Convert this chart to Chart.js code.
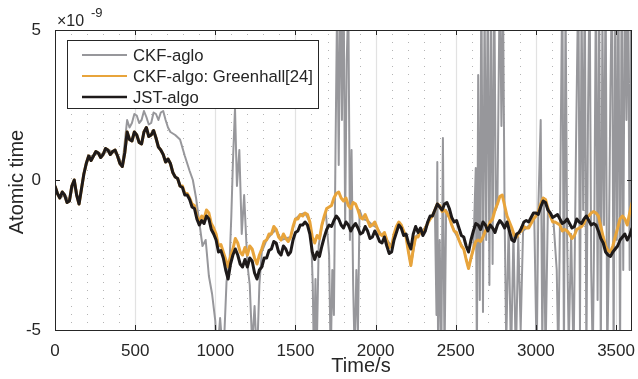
<!DOCTYPE html>
<html>
<head>
<meta charset="utf-8">
<script src="https://cdn.jsdelivr.net/npm/chart.js@4"></script>
<style>
  html, body { margin: 0; padding: 0; background: #fff; }
  #wrap { width: 638px; height: 379px; }
</style>
</head>
<body>
<div id="wrap"><canvas id="chart" width="638" height="379"></canvas></div>
<script>
// values are in units of 1e-9 (shown by the x10^-9 label)
const seriesNames = ['CKF-aglo', 'CKF-algo: Greenhall[24]', 'JST-algo'];

// JST-algo and Greenhall curves, read every 15 s (one row = 300 s)
const sampleStep = 15;
const jstValues = [
    -0.2,-0.45,-0.6,-0.4,-0.5,-0.75,-0.7,-0.2,0.0,-0.5,-0.8,-0.3,0.2,0.55,0.8,0.65,0.8,0.95,0.9,0.75,
    0.85,1.05,1.0,0.85,0.95,1.0,0.8,0.55,0.45,0.9,1.6,1.35,1.3,1.6,1.5,1.25,1.2,1.6,1.75,1.45,
    1.5,1.65,1.4,1.1,1.0,0.85,0.6,0.7,0.55,0.25,0.1,0.05,-0.2,-0.25,-0.5,-0.5,-0.65,-0.9,-0.95,-1.3,
    -1.5,-1.35,-1.45,-1.2,-1.3,-1.65,-1.8,-2.0,-2.4,-2.35,-2.6,-3.0,-3.3,-2.8,-2.5,-2.3,-2.5,-2.8,-2.9,-2.65,
    -2.9,-2.6,-2.7,-3.1,-3.3,-3.0,-2.9,-2.6,-2.6,-2.35,-2.3,-2.05,-2.1,-2.4,-2.5,-2.2,-2.3,-2.5,-2.4,-2.0,
    -1.75,-1.7,-1.5,-1.5,-1.4,-1.5,-1.8,-2.4,-2.65,-2.4,-2.55,-2.2,-1.9,-1.65,-1.5,-1.55,-1.35,-1.2,-1.3,-1.5,
    -1.6,-1.4,-1.5,-1.7,-1.55,-1.45,-1.6,-1.8,-1.75,-1.55,-1.7,-1.95,-1.9,-1.7,-1.85,-2.05,-2.1,-1.9,-2.2,-2.45,
    -2.4,-2.0,-1.75,-1.5,-1.6,-1.85,-1.8,-2.1,-2.3,-1.8,-1.55,-1.75,-1.6,-1.85,-1.7,-1.4,-1.2,-1.2,-1.0,-0.8,
    -0.9,-1.0,-0.8,-0.75,-0.95,-1.25,-1.4,-1.35,-1.6,-1.85,-1.9,-2.2,-2.4,-2.0,-1.7,-1.45,-1.5,-1.65,-1.4,-1.5,
    -1.7,-1.5,-1.6,-1.75,-1.5,-1.35,-1.45,-1.6,-1.4,-1.7,-2.0,-2.05,-1.8,-1.75,-1.6,-1.4,-1.35,-1.4,-1.25,-1.1,
    -1.1,-1.15,-0.9,-0.7,-0.75,-1.0,-1.1,-1.25,-1.2,-1.15,-1.3,-1.45,-1.4,-1.3,-1.45,-1.6,-1.55,-1.3,-1.4,-1.45,
    -1.3,-1.2,-1.35,-1.5,-1.45,-1.5,-1.7,-1.95,-2.1,-2.4,-2.5,-2.55,-2.4,-2.3,-2.2,-2.0,-1.9,-1.8,-2.0,-1.85,
    -1.6
];

const greenhallValues = [
    -0.2,-0.45,-0.6,-0.4,-0.5,-0.75,-0.7,-0.2,0.0,-0.5,-0.8,-0.3,0.2,0.55,0.8,0.65,0.8,0.95,0.9,0.75,
    0.85,1.05,1.0,0.85,0.95,1.0,0.8,0.55,0.45,0.9,1.6,1.35,1.3,1.6,1.5,1.25,1.2,1.6,1.75,1.45,
    1.5,1.65,1.4,1.1,1.0,0.85,0.6,0.7,0.55,0.25,0.1,0.05,-0.2,-0.2,-0.45,-0.45,-0.6,-0.8,-0.85,-1.2,
    -1.4,-1.2,-1.3,-1.0,-1.1,-1.45,-1.6,-1.8,-2.2,-2.15,-2.4,-2.65,-2.9,-2.55,-2.3,-1.95,-2.1,-2.4,-2.5,-2.25,
    -2.5,-2.2,-2.3,-2.6,-2.8,-2.5,-2.3,-2.05,-2.0,-1.8,-1.8,-1.55,-1.65,-1.9,-2.0,-1.8,-1.95,-2.05,-1.9,-1.55,
    -1.3,-1.3,-1.15,-1.2,-1.1,-1.15,-1.4,-1.9,-2.1,-1.85,-1.95,-1.5,-1.2,-0.95,-0.9,-0.85,-0.6,-0.45,-0.4,-0.6,
    -0.7,-0.6,-0.85,-0.95,-0.75,-0.8,-1.0,-1.25,-1.3,-1.15,-1.35,-1.55,-1.5,-1.4,-1.6,-1.8,-1.85,-1.75,-2.0,-2.25,
    -2.2,-1.8,-1.55,-1.4,-1.5,-1.7,-1.9,-2.4,-2.85,-2.3,-1.9,-1.9,-1.7,-1.8,-1.6,-1.45,-1.3,-1.2,-1.0,-0.8,
    -0.85,-1.05,-1.0,-1.1,-1.25,-1.5,-1.7,-1.75,-2.0,-2.2,-2.3,-2.65,-2.95,-2.6,-2.3,-2.05,-2.0,-2.05,-1.9,-1.7,
    -1.6,-1.4,-1.3,-1.0,-0.8,-0.55,-0.5,-0.85,-1.2,-1.4,-1.6,-1.85,-1.9,-1.75,-1.7,-1.55,-1.6,-1.6,-1.45,-1.3,
    -1.2,-1.05,-0.8,-0.6,-0.65,-0.95,-1.2,-1.4,-1.4,-1.45,-1.5,-1.7,-1.65,-1.7,-1.8,-1.95,-1.85,-1.65,-1.6,-1.55,
    -1.45,-1.25,-1.2,-1.1,-1.05,-1.1,-1.2,-1.55,-1.9,-2.2,-2.35,-2.4,-2.2,-1.9,-1.6,-1.3,-1.2,-1.3,-1.5,-1.1,
    -0.75
];

// CKF-aglo: irregular samples, values outside +-5 leave the axes
const timeCkf = [0,30,60,90,120,150,180,210,240,270,300,330,360,390,420,450,465,480,495,510,525,540,555,570,585,600,615,630,645,660,675,690,705,720,750,780,810,840,860,880,900,920,940,960,980,1000,1010,1030,1050,1070,1090,1100,1110,1123,1135,1150,1165,1180,1200,1215,1230,1245,1260,1275,1290,1320,1350,1380,1410,1440,1470,1500,1530,1560,1590,1600,1608,1615,1625,1632,1645,1665,1690,1710,1720,1730,1740,1750,1760,1770,1780,1790,1800,1810,1820,1830,1840,1850,1860,1870,1880,1890,1900,1920,1950,1980,2010,2040,2070,2100,2130,2160,2190,2220,2250,2280,2310,2340,2370,2380,2385,2390,2400,2410,2420,2430,2440,2460,2490,2520,2550,2580,2610,2625,2632,2640,2650,2660,2670,2680,2690,2700,2710,2720,2730,2740,2750,2760,2775,2785,2795,2805,2815,2830,2845,2860,2875,2890,2905,2920,2940,2970,2990,3005,3015,3030,3040,3050,3060,3075,3090,3110,3130,3140,3150,3165,3175,3185,3195,3205,3220,3235,3250,3265,3275,3285,3295,3305,3315,3325,3335,3345,3355,3365,3375,3385,3395,3405,3415,3425,3435,3445,3455,3465,3475,3485,3495,3505,3515,3525,3535,3545,3555,3565,3575,3585,3595,3600];

const ckfValues = [-0.2,-0.6,-0.5,-0.7,0.0,-0.8,0.2,0.8,0.8,0.9,0.85,1.0,0.95,0.85,0.5,2.0,1.75,1.9,2.2,2.15,1.9,2.0,2.3,2.1,1.85,1.9,2.25,2.2,2.0,2.25,2.3,2.0,1.75,1.6,1.5,1.35,0.8,0.3,0.0,-0.6,-1.4,-2.2,-2.0,-3.2,-3.8,-4.7,-6,-4.6,-6,-3.4,-2.6,-1.2,0.6,2.4,-0.2,1.0,-1.8,-0.5,-2.8,-3.5,-5.5,-4.2,-6,-3.5,-2.4,-2.0,-1.8,-1.65,-2.0,-1.95,-1.9,-1.3,-1.15,-1.1,-1.4,-2.2,-3.5,-6,-3.3,-6,-2.2,-1.5,-1.1,-2.5,-6,-3.0,-4.5,1.0,6,0.5,7,2.0,7,-1.5,4.0,6,-2.0,1.0,-3.5,-6,-3.0,-5,-1.0,-1.3,-1.35,-1.5,-1.6,-1.85,-2.0,-2.2,-1.55,-1.5,-1.9,-2.85,-1.9,-1.7,-1.6,-1.3,-1.0,-4.5,0.6,-6,-2.0,-6,1.4,-6,-1.0,-1.25,-1.7,-2.0,-2.3,-2.95,-2.3,0.4,-6,3.5,-4.0,7,-4.4,6,-2.0,7,-3.5,6,-2.8,7,-1.0,-0.8,7,1.8,6,-1.2,-5.5,-1.5,-6,-1.8,-6,-1.9,-5.0,-1.7,-1.6,-1.45,-1.3,-6,-1.0,2.0,-5.5,-0.6,-6,-0.9,-1.2,-1.4,-3.0,-6,-1.5,7,-6,6,-2.0,-5.5,-1.8,-6,1.0,7,-5.0,6,-1.0,7,-6,2.0,7,-3.0,-6,-1.0,7,-4.0,6,-6,5.5,-1.5,7,-6,-2.5,3.0,7,-6,6,-2.0,7,-6,7,-3.0,7,2.0,7,-3.0,7,-1.7];

const xTicks = [0, 500, 1000, 1500, 2000, 2500, 3000, 3500];
const yTicks = [-5, 0, 5];

const colGray = '#97979b';
const colOrange = '#e8a43b';
const colBlack = '#1e1a1a';
const axisCol = '#262626';
const fontName = '"Liberation Sans", Arial, Helvetica, sans-serif';

function toPoints(ts, vs) {
    return vs.map(function (v, i) { return { x: ts[i], y: v }; });
}
const sampleTimes = jstValues.map(function (v, i) { return i * sampleStep; });

// grid, frame, inward ticks, legend and axis titles drawn like the MATLAB figure
const matlabFrame = {
    id: 'matlabFrame',
    beforeDatasetsDraw: function (chart) {
        const ctx = chart.ctx;
        const a = chart.chartArea;
        const xs = chart.scales.x;
        ctx.save();
        for (let v = 100; v < 3600; v += 100) {
            const px = Math.round(xs.getPixelForValue(v)) + 0.5;
            ctx.beginPath();
            if (v % 500 === 0) {
                ctx.setLineDash([]);
                ctx.strokeStyle = '#e2e2e2';
                ctx.lineWidth = 1.2;
            } else {
                ctx.setLineDash([1, 7]);
                ctx.strokeStyle = '#b4b4b4';
                ctx.lineWidth = 1;
            }
            ctx.moveTo(px, a.top + 4);
            ctx.lineTo(px, a.bottom);
            ctx.stroke();
        }
        ctx.restore();
    },
    afterDatasetsDraw: function (chart) {
        const ctx = chart.ctx;
        const a = chart.chartArea;
        const xs = chart.scales.x;
        const ys = chart.scales.y;
        ctx.save();
        ctx.setLineDash([]);
        ctx.strokeStyle = axisCol;
        ctx.lineWidth = 1;
        ctx.strokeRect(Math.round(a.left) + 0.5, Math.round(a.top) + 0.5,
            Math.round(a.right - a.left) - 1, Math.round(a.bottom - a.top));

        // inward ticks
        ctx.beginPath();
        xTicks.forEach(function (v) {
            const px = Math.round(xs.getPixelForValue(v)) + 0.5;
            ctx.moveTo(px, a.bottom); ctx.lineTo(px, a.bottom - 5);
            ctx.moveTo(px, a.top); ctx.lineTo(px, a.top + 5);
        });
        yTicks.forEach(function (v) {
            const py = Math.round(ys.getPixelForValue(v)) + 0.5;
            ctx.moveTo(a.left, py); ctx.lineTo(a.left + 5, py);
            ctx.moveTo(a.right, py); ctx.lineTo(a.right - 5, py);
        });
        ctx.stroke();

        // legend
        const lx = 67, ly = 40, lw = 251, lh = 68;
        ctx.fillStyle = '#fff';
        ctx.fillRect(lx, ly, lw, lh);
        ctx.strokeStyle = axisCol;
        ctx.strokeRect(lx + 0.5, ly + 0.5, lw, lh);
        const cols = [colGray, colOrange, colBlack];
        const widths = [2, 2, 2.5];
        ctx.font = '16.7px ' + fontName;
        ctx.textBaseline = 'middle';
        ctx.textAlign = 'left';
        seriesNames.forEach(function (name, i) {
            const yy = 55 + i * 21;
            ctx.beginPath();
            ctx.strokeStyle = cols[i];
            ctx.lineWidth = widths[i];
            ctx.moveTo(82, yy); ctx.lineTo(127, yy);
            ctx.stroke();
            ctx.fillStyle = axisCol;
            ctx.fillText(name, 133, yy + 1);
        });

        // exponent label
        ctx.fillStyle = axisCol;
        ctx.textBaseline = 'alphabetic';
        ctx.font = '16px ' + fontName;
        ctx.fillText('\u00d710', 57, 26);
        ctx.font = '13px ' + fontName;
        ctx.fillText('-9', 91, 17);

        // axis titles
        ctx.font = '20px ' + fontName;
        ctx.textAlign = 'center';
        ctx.textBaseline = 'middle';
        ctx.fillText('Time/s', 361, 366);
        ctx.translate(17, 182);
        ctx.rotate(-Math.PI / 2);
        ctx.fillText('Atomic time', 0, 0);
        ctx.restore();
    }
};

const ctx = document.getElementById('chart').getContext('2d');
const chart = new Chart(ctx, {
    type: 'line',
    data: {
        datasets: [{
            label: seriesNames[0],
            data: toPoints(timeCkf, ckfValues),
            borderColor: colGray,
            borderWidth: 2,
            order: 3
        }, {
            label: seriesNames[1],
            data: toPoints(sampleTimes, greenhallValues),
            borderColor: colOrange,
            borderWidth: 3,
            order: 2
        }, {
            label: seriesNames[2],
            data: toPoints(sampleTimes, jstValues),
            borderColor: colBlack,
            borderWidth: 3,
            order: 1
        }]
    },
    options: {
        responsive: false,
        animation: false,
        events: [],
        layout: { padding: { left: 0, right: 2, top: 30, bottom: 0 } },
        elements: { point: { radius: 0 }, line: { tension: 0, borderJoinStyle: 'round' } },
        plugins: { legend: { display: false }, tooltip: { enabled: false } },
        scales: {
            x: {
                type: 'linear',
                min: 0,
                max: 3600,
                afterBuildTicks: function (scale) {
                    scale.ticks = xTicks.map(function (v) { return { value: v }; });
                },
                afterFit: function (scale) { scale.height = 49; },
                grid: { display: false },
                border: { display: false },
                ticks: {
                    color: axisCol,
                    font: { family: fontName, size: 17 },
                    padding: 3,
                    maxRotation: 0,
                    autoSkip: false,
                    callback: function (v) { return String(v); }
                }
            },
            y: {
                min: -5,
                max: 5,
                afterBuildTicks: function (scale) {
                    scale.ticks = yTicks.map(function (v) { return { value: v }; });
                },
                afterFit: function (scale) { scale.width = 55; },
                grid: { display: false },
                border: { display: false },
                ticks: {
                    color: axisCol,
                    font: { family: fontName, size: 17 },
                    padding: 6,
                    callback: function (v) { return String(v); }
                }
            }
        }
    },
    plugins: [matlabFrame]
});
</script>
</body>
</html>
